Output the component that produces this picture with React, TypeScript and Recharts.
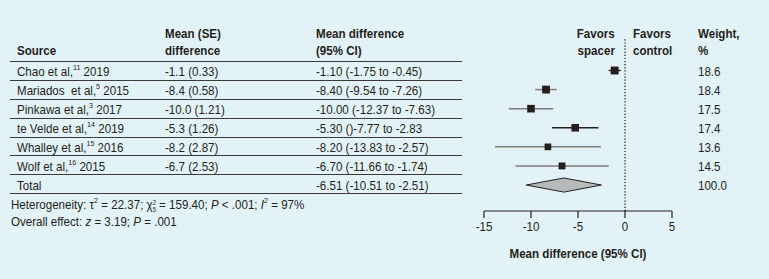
import React from 'react';
import { ComposedChart, Scatter, Area, XAxis, YAxis, ReferenceLine, ErrorBar } from 'recharts';

// study rows (top to bottom)
const studies = ['Chao et al,', 'Mariados  et al,', 'Pinkawa et al,', 'te Velde et al,', 'Whalley et al,', 'Wolf et al,'];
const refs = ['11', '5', '3', '14', '15', '16'];
const years = ['2019', '2015', '2017', '2019', '2016', '2015'];
const meanSE = ['-1.1 (0.33)', '-8.4 (0.58)', '-10.0 (1.21)', '-5.3 (1.26)', '-8.2 (2.87)', '-6.7 (2.53)'];
const ciLabels = [
  '-1.10 (-1.75 to -0.45)',
  '-8.40 (-9.54 to -7.26)',
  '-10.00 (-12.37 to -7.63)',
  '-5.30 ()-7.77 to -2.83',
  '-8.20 (-13.83 to -2.57)',
  '-6.70 (-11.66 to -1.74)',
];
const means = [-1.1, -8.4, -10.0, -5.3, -8.2, -6.7];
const ciLow = [-1.75, -9.54, -12.37, -7.77, -13.83, -11.66];
const ciHigh = [-0.45, -7.26, -7.63, -2.83, -2.57, -1.74];
const weights = [18.6, 18.4, 17.5, 17.4, 13.6, 14.5];

const totalMean = -6.51;
const totalLow = -10.51;
const totalHigh = -2.51;
const totalCi = '-6.51 (-10.51 to -2.51)';
const totalWeight = '100.0';

const xTicks = [-15, -10, -5, 0, 5];

// which rows have the darker whisker
const darkWhisker = [true, false, false, true, false, false];

const FONT = '"Liberation Sans", Arial, sans-serif';
const INK = '#231f20';
const BG = '#e2f2f7';
const SQUEEZE = 0.89;
const FS = 13;

const W = 769;
const H = 279;
const ROW0 = 71;
const ROW_H = 19;
const LINES = [61.5, 80.5, 99.5, 118.5, 137, 155.5, 174.5, 193];

const rows = means.map((m, i) => ({
  x: m,
  y: i,
  w: weights[i],
  err: [m - ciLow[i], ciHigh[i] - m],
  dark: darkWhisker[i],
}));

const diamond = [
  { x: totalLow, band: [studies.length, studies.length] },
  { x: totalMean, band: [studies.length - 0.37, studies.length + 0.37] },
  { x: totalHigh, band: [studies.length, studies.length] },
];

const Square = (props: any) => {
  const { cx, cy, payload } = props;
  const s = 3.4 + payload.w * 0.24;
  return <rect x={cx - s / 2} y={cy - s / 2} width={s} height={s} fill={INK} />;
};

const T = ({ x, y, children, bold, align, size }: any) => {
  const right = align === 'right';
  const center = align === 'center';
  return (
    <div
      style={{
        position: 'absolute',
        left: right ? undefined : center ? x - 150 : x,
        right: right ? W - x : undefined,
        width: center ? 300 : undefined,
        textAlign: center ? 'center' : undefined,
        top: y,
        transform: `translateY(-50%) scaleX(${SQUEEZE})`,
        transformOrigin: right ? 'right center' : center ? 'center center' : 'left center',
        fontWeight: bold ? 700 : 400,
        fontSize: size || FS,
        lineHeight: 1,
        whiteSpace: 'pre',
        color: INK,
      }}
    >
      {children}
    </div>
  );
};

const Sup = ({ children }: any) => (
  <span style={{ fontSize: 8, verticalAlign: 'top', position: 'relative', top: -1 }}>{children}</span>
);

const TickText = (props: any) => {
  const { x, y, payload } = props;
  return (
    <text x={x} y={y} dy="0.71em" textAnchor="middle" fontSize={FS} fill={INK} fontFamily={FONT}
      transform={`translate(${x} 0) scale(${SQUEEZE} 1) translate(${-x} 0)`}>
      {payload.value}
    </text>
  );
};

export default function App() {
  const rowY = (i: number) => ROW0 + i * ROW_H;
  return (
    <div style={{ position: 'relative', width: W, height: H, background: BG, fontFamily: FONT, overflow: 'hidden' }}>
      <style>{`body{margin:0}`}</style>

      {/* headers */}
      <T x={17} y={50} bold>Source</T>
      <T x={165} y={33} bold>Mean (SE)</T>
      <T x={165} y={50} bold>difference</T>
      <T x={316} y={33} bold>Mean difference</T>
      <T x={316} y={50} bold>(95% CI)</T>
      <T x={615} y={33} bold align="right">Favors</T>
      <T x={615} y={50} bold align="right">spacer</T>
      <T x={633} y={33} bold>Favors</T>
      <T x={633} y={50} bold>control</T>
      <T x={698} y={33} bold>Weight,</T>
      <T x={698} y={50} bold>%</T>

      {LINES.map((ly, i) => (
        <div key={i} style={{ position: 'absolute', left: 10, width: 452, top: ly - 0.5, height: 1, background: '#3a3a3a' }} />
      ))}

      {studies.map((s, i) => (
        <React.Fragment key={s}>
          <T x={17} y={rowY(i)}>
            {s}
            <Sup>{refs[i]}</Sup> {years[i]}
          </T>
          <T x={165} y={rowY(i)}>{meanSE[i]}</T>
          <T x={316} y={rowY(i)}>{ciLabels[i]}</T>
          <T x={698} y={rowY(i)}>{weights[i].toFixed(1)}</T>
        </React.Fragment>
      ))}
      <T x={17} y={rowY(6) - 0.5}>Total</T>
      <T x={316} y={rowY(6) - 0.5}>{totalCi}</T>
      <T x={698} y={rowY(6) - 0.5}>{totalWeight}</T>

      <T x={11} y={205}>
        Heterogeneity: τ<Sup>2</Sup> = 22.37; χ
        <span style={{ display: 'inline-block', verticalAlign: 'middle', fontSize: 6.5, lineHeight: '7px' }}>
          2<br />5
        </span>{' '}
        = 159.40; <i>P</i> &lt; .001; <i>I</i>
        <Sup>2</Sup> = 97%
      </T>
      <T x={11} y={221}>
        Overall effect: <i>z</i> = 3.19; <i>P</i> = .001
      </T>

      <div style={{ position: 'absolute', left: 0, top: 0 }}>
        <ComposedChart width={W} height={H} margin={{ top: 39, right: 97, bottom: 38, left: 484 }}>
          <XAxis
            type="number"
            dataKey="x"
            domain={[-15, 5]}
            ticks={xTicks}
            height={30}
            tickSize={7}
            tickMargin={4}
            axisLine={{ stroke: INK, strokeWidth: 1.2 }}
            tickLine={{ stroke: INK, strokeWidth: 1.2 }}
            tick={<TickText />}
            interval={0}
          />
          <YAxis type="number" dataKey="y" domain={[-1.65, 7.36]} reversed hide allowDataOverflow />
          <ReferenceLine x={0} stroke={INK} strokeWidth={1.3} strokeDasharray="1.2 1.9" />
          <Area
            data={diamond}
            dataKey="band"
            type="linear"
            stroke={INK}
            strokeWidth={1}
            fill="#b5babc"
            fillOpacity={1}
            isAnimationActive={false}
          />
          <Scatter data={rows.filter((r) => !r.dark)} shape={<Square />} isAnimationActive={false}>
            <ErrorBar dataKey="err" direction="x" width={0} stroke="#7d7d7d" strokeWidth={1.5} />
          </Scatter>
          <Scatter data={rows.filter((r) => r.dark)} shape={<Square />} isAnimationActive={false}>
            <ErrorBar dataKey="err" direction="x" width={0} stroke={INK} strokeWidth={1.3} />
          </Scatter>
        </ComposedChart>
      </div>

      <T x={578} y={253} bold align="center">Mean difference (95% CI)</T>
    </div>
  );
}
